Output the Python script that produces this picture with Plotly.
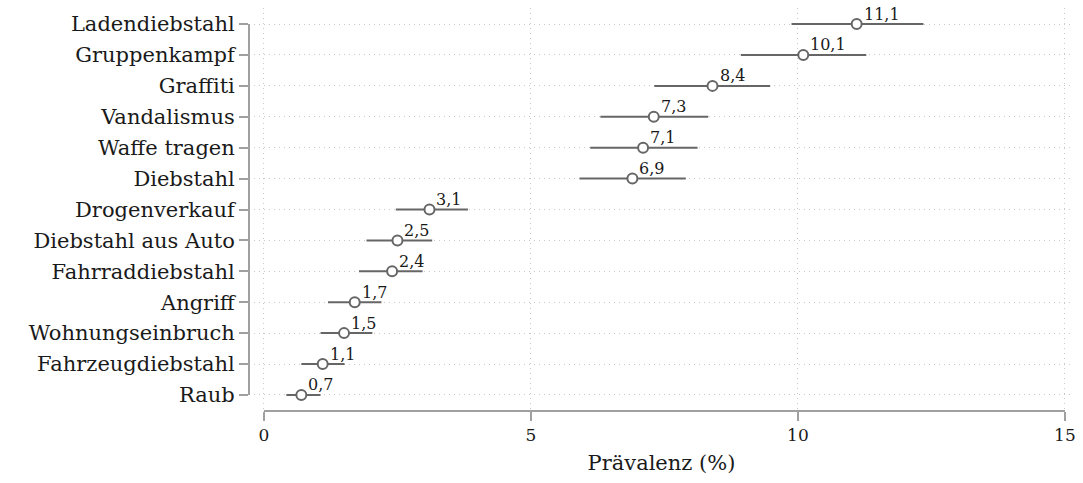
import plotly.graph_objects as go

# Offence categories (top to bottom as listed) with prevalence estimate and 95% CI
categories = ["Ladendiebstahl", "Gruppenkampf", "Graffiti", "Vandalismus", "Waffe tragen",
              "Diebstahl", "Drogenverkauf", "Diebstahl aus Auto", "Fahrraddiebstahl",
              "Angriff", "Wohnungseinbruch", "Fahrzeugdiebstahl", "Raub"]
prevalence = [11.1, 10.1, 8.4, 7.3, 7.1, 6.9, 3.1, 2.5, 2.4, 1.7, 1.5, 1.1, 0.7]
ci_low = [9.88, 8.93, 7.31, 6.30, 6.11, 5.91, 2.47, 1.92, 1.78, 1.20, 1.06, 0.70, 0.42]
ci_high = [12.35, 11.28, 9.48, 8.32, 8.12, 7.90, 3.82, 3.15, 2.97, 2.20, 2.03, 1.51, 1.06]
x_ticks = [0, 5, 10, 15]

labels = [f"{v:.1f}".replace(".", ",") for v in prevalence]
err_plus = [h - v for h, v in zip(ci_high, prevalence)]
err_minus = [v - l for l, v in zip(ci_low, prevalence)]

FONT = "DejaVu Serif"
TEXT = "#1a1a1a"
AXIS_GREY = "#a0a0a0"
MARK_GREY = "#666666"
GRID = dict(showgrid=True, gridcolor="#c8c8c8", gridwidth=1, griddash="1px,4px")

fig = go.Figure()
fig.add_trace(go.Scatter(
    x=prevalence, y=categories,
    mode="markers",
    marker=dict(symbol="circle", size=10, color="white",
                line=dict(color=MARK_GREY, width=2)),
    error_x=dict(type="data", symmetric=False, array=err_plus, arrayminus=err_minus,
                 color=MARK_GREY, thickness=2, width=0),
    cliponaxis=False,
    showlegend=False,
))

# Value labels just above and to the right of each estimate
for x, y, t in zip(prevalence, categories, labels):
    fig.add_annotation(x=x, y=y, text=t, showarrow=False,
                       xanchor="left", yanchor="middle", xshift=5, yshift=10,
                       font=dict(family=FONT, size=16, color=TEXT))

# Stata-style axis lines covering only the tick range
fig.add_shape(type="line", xref="x", yref="paper", x0=0, x1=15, y0=0, y1=0,
              line=dict(color=AXIS_GREY, width=2))
fig.add_shape(type="line", xref="paper", yref="y", x0=0, x1=0,
              y0=categories[-1], y1=categories[0],
              line=dict(color=AXIS_GREY, width=2))

fig.update_xaxes(
    range=[-0.28, 15.17],
    tickvals=x_ticks, ticktext=[str(t) for t in x_ticks],
    ticks="outside", ticklen=9, tickwidth=2, tickcolor=AXIS_GREY,
    tickfont=dict(family=FONT, size=17, color=TEXT),
    showline=False, zeroline=False, **GRID,
    title=dict(text="Prävalenz (%)", font=dict(family=FONT, size=21, color=TEXT),
               standoff=10),
)
fig.update_yaxes(
    type="category",
    categoryorder="array", categoryarray=categories[::-1],
    range=[-0.52, 12.52],
    ticks="outside", ticklen=9, tickwidth=2, tickcolor=AXIS_GREY,
    tickfont=dict(family=FONT, size=21, color=TEXT),
    showline=False, zeroline=False, **GRID,
)

fig.update_layout(
    width=1083, height=483,
    margin=dict(l=249, r=7, t=8, b=72),
    paper_bgcolor="white", plot_bgcolor="white",
)

fig.write_html("out.html")
